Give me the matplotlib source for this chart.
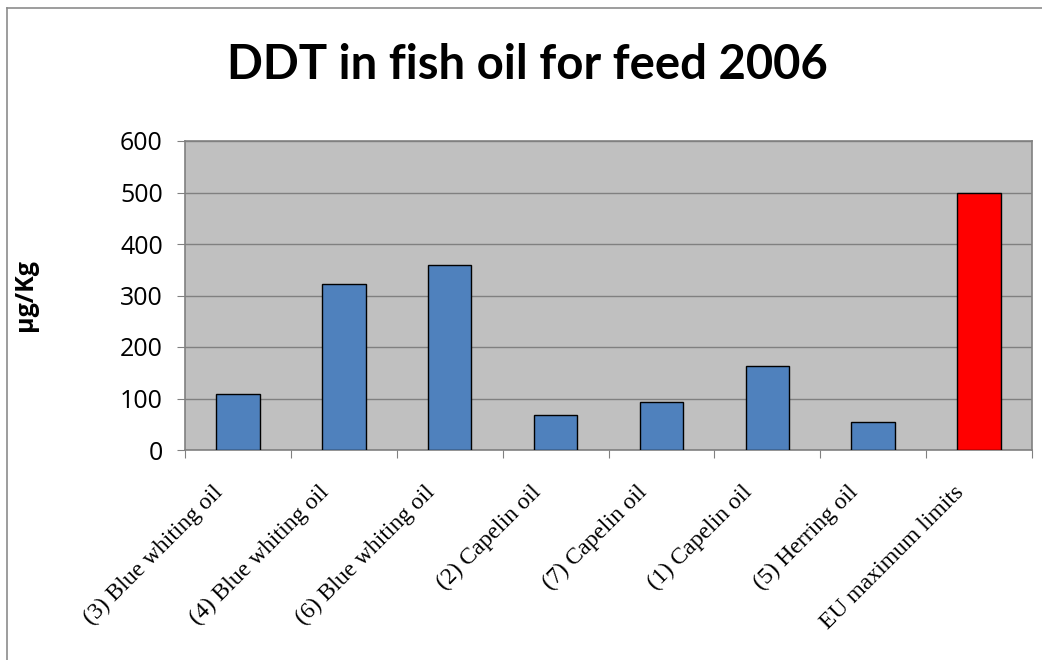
import numpy as np
import matplotlib.pyplot as plt
from matplotlib.lines import Line2D

# DDT levels in fish oil samples (µg/Kg)
samples = ['(3) Blue whiting oil', '(4) Blue whiting oil', '(6) Blue whiting oil',
           '(2) Capelin oil', '(7) Capelin oil', '(1) Capelin oil',
           '(5) Herring oil', 'EU maximum limits']
ddt = [108, 322, 359, 67, 93, 163, 54, 500]
bar_colors = ['#4F81BD'] * 7 + ['#FF0000']

fig = plt.figure(figsize=(10.42, 6.6), dpi=100)
ax = fig.add_axes([185 / 1042, 1 - 450 / 660, (1032 - 185) / 1042, (450 - 141) / 660])

x = np.arange(len(samples))
ax.bar(x, ddt, width=0.41, color=bar_colors, edgecolor='black', linewidth=1.0, zorder=3)

ax.set_facecolor('#C0C0C0')
ax.set_xlim(-0.5, len(samples) - 0.5)
ax.set_ylim(0, 600)
ax.set_yticks(range(0, 601, 100))
ax.yaxis.grid(True, color='#808080', linewidth=1.0, zorder=1)
for s in ax.spines.values():
    s.set_color('#808080')
    s.set_linewidth(1.2)

ax.tick_params(axis='y', length=6, color='#808080', labelsize=18, pad=10)
for lab in ax.get_yticklabels():
    lab.set_fontfamily('Open Sans')

# ticks sit on the category boundaries, labels on the bar centres
ax.set_xticks(np.arange(-0.5, len(samples)))
ax.set_xticklabels([])
ax.tick_params(axis='x', length=6, color='#808080')
for i, name in enumerate(samples):
    ax.annotate(name, xy=(i, 0), xycoords=('data', 'axes fraction'),
                xytext=(-18, -39), textcoords='offset pixels',
                rotation=45, rotation_mode='anchor', ha='right', va='center',
                fontsize=17, family='Liberation Serif')

ax.set_ylabel('µg/Kg', fontsize=18, fontweight='bold', family='Open Sans')
ax.yaxis.set_label_coords((38 - 185) / 847, 0.5)

fig.text(0.506, 1 - 65 / 660, 'DDT in fish oil for feed 2006', ha='center', va='center',
         fontsize=34, fontweight='bold', family='Lato')

# frame around the chart area
fig.add_artist(Line2D([6.5 / 1042, 6.5 / 1042], [0, 1 - 8 / 660], color='#8C8C8C', linewidth=1.2))
fig.add_artist(Line2D([6.5 / 1042, 1], [1 - 8 / 660, 1 - 8 / 660], color='#8C8C8C', linewidth=1.2))

fig.savefig('out.png', dpi=100)
